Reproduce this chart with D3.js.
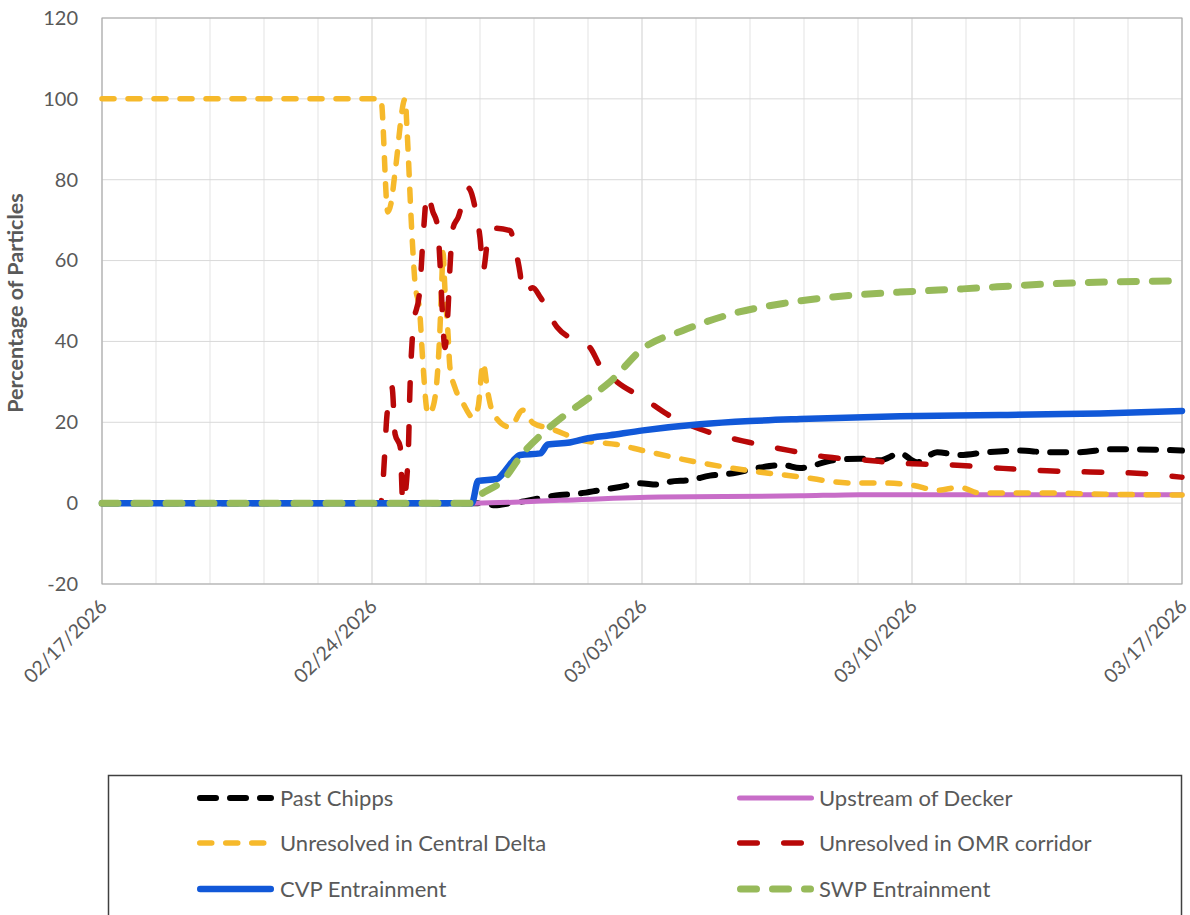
<!DOCTYPE html>
<html><head><meta charset="utf-8">
<script src="https://cdn.jsdelivr.net/npm/d3@7"></script>
<style>
body{margin:0;background:#fff}
svg{display:block}
text{font-family:Lato,"Open Sans",sans-serif}
</style>
</head><body>
<svg id="chart" width="1190" height="915"></svg>
<script>
// ---- data (x = days after 02/17/2026, y = % of particles) ----
const xTickDays = [0, 7, 14, 21, 28];
const xTickLabels = ["02/17/2026", "02/24/2026", "03/03/2026", "03/10/2026", "03/17/2026"];
const yTicks = [-20, 0, 20, 40, 60, 80, 100, 120];
const seriesNames = ["Past Chipps", "Upstream of Decker", "Unresolved in Central Delta",
  "Unresolved in OMR corridor", "CVP Entrainment", "SWP Entrainment"];

const pastChippsDays   = [0, 9.80, 10.19, 10.58, 10.97, 11.36, 11.87, 12.30, 12.91, 13.43, 13.95, 14.40, 14.73, 15.24, 15.76, 16.36, 17.06, 17.66, 18.10, 18.95, 19.65, 20.17, 20.69, 21.13, 21.65, 22.24, 22.94, 23.80, 24.50, 25.35, 26.13, 26.83, 28];
const pastChippsValues = [0, 0, -0.5, 0, 0.5, 1.2, 2.0, 2.3, 3.2, 4.0, 4.9, 4.6, 5.3, 5.7, 6.8, 7.4, 8.8, 9.4, 8.7, 10.6, 11.0, 10.6, 12.3, 10.1, 12.6, 11.9, 12.6, 13.0, 12.6, 12.6, 13.3, 13.3, 13.0];

const deckerDays   = [0, 9.67, 11.87, 14.47, 18.10, 19.65, 28];
const deckerValues = [0, 0, 0.7, 1.5, 1.8, 2.1, 2.1];

const centralDeltaDays   = [0, 7.23, 7.41, 7.49, 7.60, 7.86, 7.91, 8.03, 8.11, 8.24, 8.32, 8.45, 8.55, 8.68, 8.76, 8.81, 8.84, 8.89, 8.97, 9.02, 9.15, 9.36, 9.62, 9.75, 9.88, 10.01, 10.14, 10.58, 10.91, 11.18, 11.61, 12.47, 13.35, 14.03, 15.50, 16.80, 18.10, 19.40, 20.17, 21.03, 21.65, 22.24, 22.76, 24.50, 26.00, 28];
const centralDeltaValues = [100, 100, 72, 74, 82, 100, 92, 67.5, 55, 47, 34.6, 22, 23, 30, 42.7, 55, 62, 53, 42, 33.6, 28.6, 24.7, 21.2, 23.7, 34.6, 27, 22.2, 18.8, 23, 19.8, 18.5, 15.5, 14.5, 13, 10, 8, 6.5, 5, 5, 4.4, 3.2, 3.9, 2.5, 2.5, 2.2, 2.0];

const omrDays   = [0, 7.23, 7.29, 7.39, 7.52, 7.60, 7.73, 7.80, 7.93, 7.99, 8.06, 8.24, 8.32, 8.43, 8.58, 8.69, 8.76, 8.81, 8.89, 8.97, 9.02, 9.10, 9.23, 9.49, 9.72, 9.80, 9.88, 10.01, 10.14, 10.58, 10.71, 10.84, 10.91, 11.17, 11.36, 11.80, 12.47, 12.65, 12.91, 13.35, 14.03, 14.65, 15.76, 16.80, 17.84, 18.80, 19.83, 20.69, 22.17, 23.36, 24.50, 25.62, 26.83, 28];
const omrValues = [0, 0, 6, 22, 28.6, 17, 14, 0, 10, 30, 42.7, 53, 65, 76.5, 72, 69, 60, 50, 38.5, 47.6, 58, 68, 70.6, 78, 70.6, 65.7, 57.5, 65.7, 68, 67.4, 63, 56.8, 51.8, 53.3, 51, 43.5, 39.5, 38.5, 34, 30, 26, 22, 17.5, 15, 13, 11.4, 10.6, 9.9, 9.4, 8.6, 8.0, 7.7, 7.4, 6.4];

const cvpDays   = [0, 9.59, 9.75, 10.24, 10.45, 10.66, 10.84, 11.36, 11.56, 12.13, 12.57, 13.17, 14.03, 15.50, 16.80, 18.10, 20.69, 23.28, 24.50, 25.87, 28];
const cvpValues = [0, 0, 5.5, 6, 8, 10.5, 11.9, 12.3, 14.5, 15, 16, 16.8, 18, 19.5, 20.3, 20.8, 21.5, 21.8, 22.0, 22.2, 22.8];

const swpDays   = [0, 9.54, 9.80, 10.40, 10.91, 11.43, 12.06, 12.65, 13.17, 14.03, 15.06, 16.36, 17.66, 18.95, 20.69, 22.32, 24.50, 28];
const swpValues = [0, 0, 2, 5.7, 12.3, 17.3, 22.2, 26.2, 30, 38.3, 42.7, 46.9, 49.4, 51, 52.2, 53, 54.2, 55];

// ---- styles ----
const seriesStyles = [
  {color: "#000000", width: 6,   dash: "16 14"},
  {color: "#C86DC8", width: 5,   dash: null},
  {color: "#F6B92B", width: 5.5, dash: "12 14"},
  {color: "#B80808", width: 5.5, dash: "17.5 26.5"},
  {color: "#1158D8", width: 6.5, dash: null},
  {color: "#97BA5A", width: 7,   dash: "16 16"}
];
const seriesData = [
  [pastChippsDays, pastChippsValues],
  [deckerDays, deckerValues],
  [centralDeltaDays, centralDeltaValues],
  [omrDays, omrValues],
  [cvpDays, cvpValues],
  [swpDays, swpValues]
];

const svg = d3.select("#chart");
const L = 102, R = 1182, T = 18, B = 584;
const x = d3.scaleLinear().domain([0, 28]).range([L, R]);
const y = d3.scaleLinear().domain([-20, 120]).range([B, T]);

// gridlines
const grid = svg.append("g");
grid.selectAll("line.v").data(d3.range(0, 28.0001, 1.4)).enter().append("line")
  .attr("x1", d => x(d)).attr("x2", d => x(d)).attr("y1", T).attr("y2", B)
  .attr("stroke", d => (Math.abs(d % 7) < 1e-6 || Math.abs(d % 7 - 7) < 1e-6) ? "#cfcfcf" : "#e3e3e3")
  .attr("stroke-width", 1);
grid.selectAll("line.h").data(yTicks).enter().append("line")
  .attr("x1", L).attr("x2", R).attr("y1", d => y(d)).attr("y2", d => y(d))
  .attr("stroke", "#d9d9d9").attr("stroke-width", 1);
svg.append("rect").attr("x", L).attr("y", T).attr("width", R - L).attr("height", B - T)
  .attr("fill", "none").attr("stroke", "#a6a6a6").attr("stroke-width", 1);

// y axis
const yAxis = svg.append("g").attr("transform", `translate(${L},0)`)
  .call(d3.axisLeft(y).tickValues(yTicks).tickSize(0).tickPadding(24).tickFormat(d => String(d)));
yAxis.select(".domain").remove();
yAxis.selectAll("text").attr("font-size", 20).attr("fill", "#595959")
  .style("font-family", "Lato, 'Open Sans', sans-serif");

// x axis
const xAxis = svg.append("g").attr("transform", `translate(0,${B})`)
  .call(d3.axisBottom(x).tickValues(xTickDays).tickSize(0)
    .tickFormat((d, i) => xTickLabels[i]));
xAxis.select(".domain").remove();
xAxis.selectAll("text").attr("font-size", 19.5).attr("fill", "#595959")
  .style("font-family", "Lato, 'Open Sans', sans-serif")
  .attr("text-anchor", "end").attr("y", 0).attr("dy", "0.35em")
  .attr("transform", "translate(1,19) rotate(-45)");

// y title
svg.append("text").attr("transform", "translate(23,303) rotate(-90)")
  .attr("text-anchor", "middle").attr("font-size", 21.5).attr("font-weight", "bold")
  .attr("fill", "#595959").text("Percentage of Particles");

// lines
const line = d3.line().x(d => x(d[0])).y(d => y(d[1])).curve(d3.curveMonotoneX);
const plot = svg.append("g");
seriesData.forEach((s, i) => {
  const pts = s[0].map((d, k) => [d, s[1][k]]);
  const st = seriesStyles[i];
  const p = plot.append("path").datum(pts).attr("d", line)
    .attr("fill", "none").attr("stroke", st.color).attr("stroke-width", st.width)
    .attr("stroke-linecap", "round").attr("stroke-linejoin", "round");
  if (st.dash) p.attr("stroke-dasharray", st.dash);
});

// legend
svg.append("rect").attr("x", 108.5).attr("y", 775.5).attr("width", 1073).attr("height", 160)
  .attr("fill", "#fff").attr("stroke", "#404040").attr("stroke-width", 1.5);
const legendCols = [[197, 274, 280], [737, 814, 819]];
const legendRows = [798, 843, 889];
seriesNames.forEach((name, i) => {
  const col = legendCols[i % 2], row = legendRows[Math.floor(i / 2)];
  const st = seriesStyles[i];
  const ln = svg.append("line").attr("x1", col[0] + st.width / 2).attr("x2", col[1] - st.width / 2)
    .attr("y1", row).attr("y2", row).attr("stroke", st.color).attr("stroke-width", st.width)
    .attr("stroke-linecap", "round");
  if (st.dash) ln.attr("stroke-dasharray", st.dash);
  svg.append("text").attr("x", col[2]).attr("y", row).attr("dy", "0.35em")
    .attr("font-size", 22).attr("fill", "#595959").text(name);
});
</script>
</body></html>
